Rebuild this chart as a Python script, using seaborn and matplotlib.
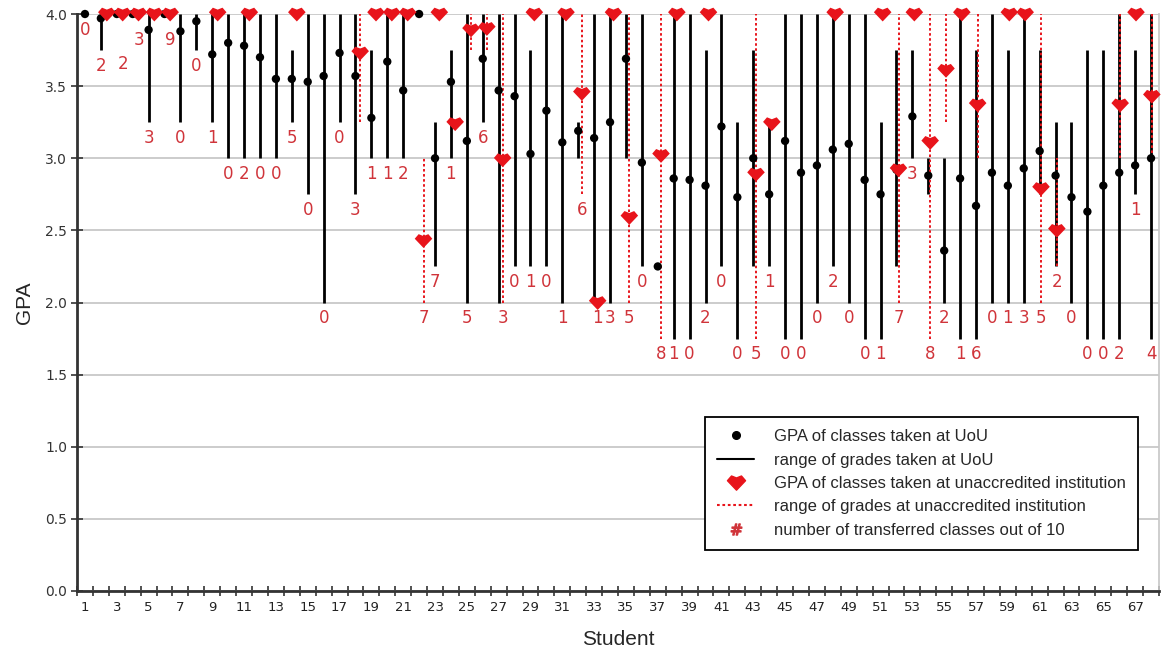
import numpy as np
import pandas as pd
import matplotlib
matplotlib.use("Agg")
import matplotlib.pyplot as plt
from matplotlib.lines import Line2D
from matplotlib.path import Path
import seaborn as sns

nan = np.nan

students = np.arange(1, 69)

# GPA and range of grades for classes taken at UoU
uou_gpa = [4.00, 3.97, 4.00, 4.00, 3.89, 4.00, 3.88, 3.95, 3.72, 3.80,
           3.78, 3.70, 3.55, 3.55, 3.53, 3.57, 3.73, 3.57, 3.28, 3.67,
           3.47, 4.00, 3.00, 3.53, 3.12, 3.69, 3.47, 3.43, 3.03, 3.33,
           3.11, 3.19, 3.14, 3.25, 3.69, 2.97, 2.25, 2.86, 2.85, 2.81,
           3.22, 2.73, 3.00, 2.75, 3.12, 2.90, 2.95, 3.06, 3.10, 2.85,
           2.75, 2.92, 3.29, 2.88, 2.36, 2.86, 2.67, 2.90, 2.81, 2.93,
           3.05, 2.88, 2.73, 2.63, 2.81, 2.90, 2.95, 3.00]
uou_low = [4.00, 3.75, 4.00, 4.00, 3.25, 4.00, 3.25, 3.75, 3.25, 3.00,
           3.00, 3.00, 3.00, 3.25, 2.75, 2.00, 3.25, 2.75, 3.00, 3.00,
           3.00, 4.00, 2.25, 3.00, 2.00, 3.25, 2.00, 2.25, 2.25, 2.25,
           2.00, 3.00, 2.00, 2.00, 3.00, 2.25, 2.25, 1.75, 1.75, 2.00,
           2.25, 1.75, 2.25, 2.25, 1.75, 1.75, 2.00, 2.25, 2.00, 1.75,
           1.75, 2.25, 3.00, 2.75, 2.00, 1.75, 1.75, 2.00, 2.00, 2.00,
           2.75, 2.25, 2.00, 1.75, 1.75, 1.75, 2.75, 1.75]
uou_high = [4.00, 4.00, 4.00, 4.00, 4.00, 4.00, 4.00, 4.00, 4.00, 4.00,
            4.00, 4.00, 4.00, 3.75, 4.00, 4.00, 4.00, 4.00, 3.75, 4.00,
            4.00, 4.00, 3.25, 3.75, 4.00, 4.00, 4.00, 4.00, 3.75, 4.00,
            4.00, 3.25, 4.00, 4.00, 4.00, 4.00, 2.25, 4.00, 4.00, 3.75,
            4.00, 3.25, 3.75, 3.25, 4.00, 4.00, 4.00, 4.00, 4.00, 4.00,
            3.25, 3.75, 3.75, 3.00, 3.00, 4.00, 3.75, 4.00, 3.75, 4.00,
            3.75, 3.25, 3.25, 3.75, 3.75, 4.00, 3.75, 4.00]

# GPA and range of grades for classes taken at the unaccredited institution
trans_gpa = [nan, 4.00, 4.00, 4.00, 4.00, 4.00, nan, nan, 4.00, nan,
             4.00, nan, nan, 4.00, nan, nan, nan, 3.73, 4.00, 4.00,
             4.00, 2.43, 4.00, 3.24, 3.89, 3.90, 2.99, nan, 4.00, nan,
             4.00, 3.45, 2.00, 4.00, 2.59, nan, 3.02, 4.00, nan, 4.00,
             nan, nan, 2.89, 3.24, nan, nan, nan, 4.00, nan, nan,
             4.00, 2.92, 4.00, 3.11, 3.61, 4.00, 3.37, nan, 4.00, 4.00,
             2.79, 2.50, nan, nan, nan, 3.37, 4.00, 3.43]
trans_low = [nan, 4.00, 4.00, 4.00, 4.00, 4.00, nan, nan, 4.00, nan,
             4.00, nan, nan, 4.00, nan, nan, nan, 3.25, 4.00, 4.00,
             4.00, 2.00, 4.00, 3.24, 3.75, 3.75, 2.00, nan, 4.00, nan,
             4.00, 2.75, 2.00, 4.00, 2.00, nan, 1.75, 4.00, nan, 4.00,
             nan, nan, 1.75, 3.24, nan, nan, nan, 4.00, nan, nan,
             4.00, 2.00, 4.00, 1.75, 3.25, 4.00, 3.00, nan, 4.00, 4.00,
             2.00, 2.25, nan, nan, nan, 3.00, 4.00, 3.00]
trans_high = [nan, 4.00, 4.00, 4.00, 4.00, 4.00, nan, nan, 4.00, nan,
              4.00, nan, nan, 4.00, nan, nan, nan, 4.00, 4.00, 4.00,
              4.00, 3.00, 4.00, 3.24, 4.00, 4.00, 4.00, nan, 4.00, nan,
              4.00, 4.00, 2.00, 4.00, 4.00, nan, 4.00, 4.00, nan, 4.00,
              nan, nan, 4.00, 3.24, nan, nan, nan, 4.00, nan, nan,
              4.00, 4.00, 4.00, 4.00, 4.00, 4.00, 4.00, nan, 4.00, 4.00,
              4.00, 3.00, nan, nan, nan, 4.00, 4.00, 4.00]

# number of transferred classes out of 10
n_transferred = [0, 2, 2, 3, 3, 9, 0, 0, 1, 0,
                 2, 0, 0, 5, 0, 0, 0, 3, 1, 1,
                 2, 7, 7, 1, 5, 6, 3, 0, 1, 0,
                 1, 6, 1, 3, 5, 0, 8, 1, 0, 2,
                 0, 0, 5, 1, 0, 0, 0, 2, 0, 0,
                 1, 7, 3, 8, 2, 1, 6, 0, 1, 3,
                 5, 2, 0, 0, 0, 2, 1, 4]

df = pd.DataFrame({
    "student": students,
    "uou_gpa": uou_gpa, "uou_low": uou_low, "uou_high": uou_high,
    "trans_gpa": trans_gpa, "trans_low": trans_low, "trans_high": trans_high,
    "n": n_transferred,
})
# the red series sits slightly to the right of the black one
df["red_x"] = df["student"] + np.linspace(0.38, 0.05, len(df))

RED = "#e8141b"
LABEL_RED = "#d0343a"
heart = Path([(-1.0, 0.2), (-0.55, 0.72), (0.0, 0.5), (0.55, 0.72),
              (1.0, 0.2), (0.0, -0.85), (-1.0, 0.2)], closed=True)

sns.set_theme(style="whitegrid")
plt.rcParams["font.family"] = ["DejaVu Sans"]

fig = plt.figure(figsize=(11.61, 6.58), dpi=100)
ax = fig.add_axes([77 / 1161, 1 - 591 / 658, (1159 - 77) / 1161, (591 - 14) / 658])

# ranges
ax.vlines(df["student"], df["uou_low"], df["uou_high"], color="black", lw=2, zorder=3)
ax.vlines(df["red_x"], df["trans_low"], df["trans_high"], colors=RED,
          linestyles=(0, (1.3, 1.3)), lw=1.4, zorder=4)

# GPAs
sns.scatterplot(data=df, x="student", y="uou_gpa", ax=ax, color="black", s=36,
                edgecolor="none", zorder=5, clip_on=False)
sns.scatterplot(data=df, x="red_x", y="trans_gpa", ax=ax, color=RED, marker=heart,
                s=160, edgecolor="none", zorder=6, clip_on=False)

# number of transferred classes
lows = np.fmin(df["uou_low"], df["trans_low"])
use_red = df["trans_low"] <= df["uou_low"]
nudge = {3: -0.24, 4: -0.07, 6: -0.07}
for i, row in df.iterrows():
    lx = row["red_x"] if use_red[i] else row["student"]
    ly = lows[i] - 0.11 + nudge.get(int(row["student"]), 0)
    ax.text(lx, ly, str(int(row["n"])), color=LABEL_RED, fontsize=12,
            ha="center", va="center", zorder=7)

ax.set_xlim(0.5, 68.4)
ax.set_ylim(0, 4.0)
ax.set_xticks(np.arange(1, 68, 2))
ax.set_xticks(np.arange(0.5, 69, 1), minor=True)
ax.set_yticks(np.arange(0, 4.01, 0.5))
ax.set_yticklabels([f"{v:.1f}" for v in np.arange(0, 4.01, 0.5)])
ax.tick_params(axis="x", which="major", length=0, labelsize=9.5, labelcolor="#222", pad=7)
ax.tick_params(axis="x", which="minor", direction="inout", length=7, width=1.2,
               color="#333", bottom=True)
ax.tick_params(axis="y", direction="inout", length=8, width=1.2, color="#333",
               left=True, labelsize=10, labelcolor="#333", pad=3)

ax.xaxis.grid(False)
ax.yaxis.grid(True, color="#c8c8c8", lw=1.3)
for side in ["left", "bottom"]:
    ax.spines[side].set_color("#333")
    ax.spines[side].set_linewidth(2)
ax.spines["top"].set_visible(False)
ax.spines["right"].set_color("#c8c8c8")

ax.set_xlabel("Student", fontsize=15, family="Liberation Sans", labelpad=12)
ax.set_ylabel("GPA", fontsize=15, family="Liberation Sans", labelpad=8)

handles = [
    Line2D([], [], ls="none", marker="o", color="black", markersize=5.5),
    Line2D([], [], color="black", lw=1.5),
    Line2D([], [], ls="none", marker=heart, color=RED, markersize=13),
    Line2D([], [], color=RED, ls=(0, (1.3, 1.3)), lw=1.5),
    Line2D([], [], ls="none", marker=r"$\#$", color=LABEL_RED, markersize=8),
]
labels = ["GPA of classes taken at UoU",
          "range of grades taken at UoU",
          "GPA of classes taken at unaccredited institution",
          "range of grades at unaccredited institution",
          "number of transferred classes out of 10"]
leg = ax.legend(handles, labels, loc="lower right", bbox_to_anchor=(0.981, 0.071),
                prop={"family": "Liberation Sans", "size": 12}, frameon=True,
                fancybox=False, framealpha=1, edgecolor="black", borderpad=0.75,
                labelspacing=0.5, handlelength=2.2, handletextpad=1.2,
                borderaxespad=0)
leg.get_frame().set_linewidth(1.3)

fig.savefig("out.png", dpi=100)
